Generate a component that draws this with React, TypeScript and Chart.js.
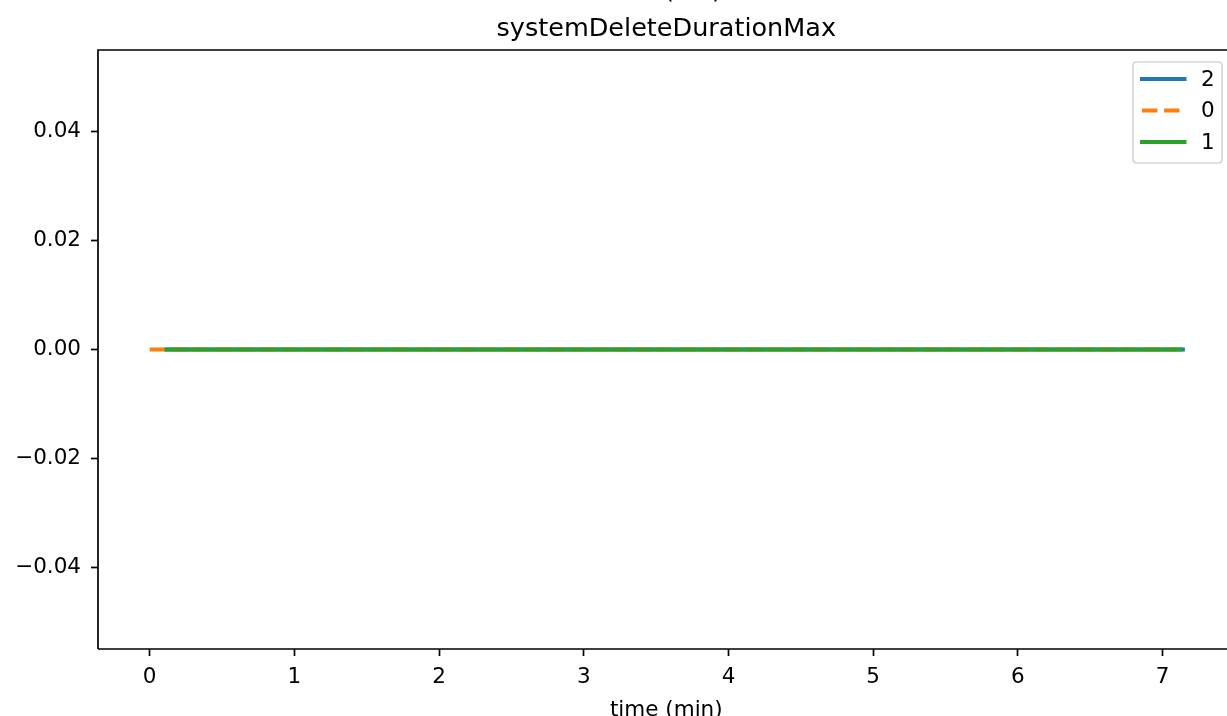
import React, { useEffect, useRef } from "react";
import { Chart, registerables } from "chart.js";

Chart.register(...registerables);

// ---- data ----
const SERIES_LABELS = ["2", "0", "1"];
const SERIES_COLORS = ["#1f77b4", "#ff7f0e", "#2ca02c"];
const SERIES_DASHED = [false, true, false];

const TIME_2 = [0.117, 0.6, 1.1, 1.6, 2.1, 2.6, 3.1, 3.6, 4.1, 4.6, 5.1, 5.6, 6.1, 6.6, 7.14];
const VALUES_2 = [0, 0, 0, 0, 0, 0, 0, 0, 0, 0, 0, 0, 0, 0, 0];
const TIME_0 = [0, 0.5, 1.0, 1.5, 2.0, 2.5, 3.0, 3.5, 4.0, 4.5, 5.0, 5.5, 6.0, 6.5, 7.1];
const VALUES_0 = [0, 0, 0, 0, 0, 0, 0, 0, 0, 0, 0, 0, 0, 0, 0];
const TIME_1 = [0.117, 0.6, 1.1, 1.6, 2.1, 2.6, 3.1, 3.6, 4.1, 4.6, 5.1, 5.6, 6.1, 6.6, 7.125];
const VALUES_1 = [0, 0, 0, 0, 0, 0, 0, 0, 0, 0, 0, 0, 0, 0, 0];

const X_TICKS = [0, 1, 2, 3, 4, 5, 6, 7];
const Y_TICKS = [-0.04, -0.02, 0, 0.02, 0.04];
const X_LIMITS = [-0.357, 7.445];
const Y_LIMITS = [-0.055, 0.055];

const TITLE = "systemDeleteDurationMax";
const SUPTITLE = "(ms)";
const X_LABEL = "time (min)";

const FONT = "'DejaVu Sans', sans-serif";

const toPoints = (t: number[], v: number[]) => t.map((x, i) => ({ x, y: v[i] }));

const textPlugin = {
  id: "mplText",
  afterDatasetsDraw(chart: any) {
    const { ctx, chartArea } = chart;
    const pxPerUnit = (chartArea.right - chartArea.left) / (X_LIMITS[1] - X_LIMITS[0]);
    const rightSpine = chartArea.left + (7.497 - X_LIMITS[0]) * pxPerUnit;
    ctx.save();
    // spines
    ctx.strokeStyle = "#000";
    ctx.lineWidth = 1.7;
    ctx.beginPath();
    ctx.moveTo(chartArea.left, chartArea.bottom);
    ctx.lineTo(chartArea.left, chartArea.top);
    ctx.lineTo(rightSpine, chartArea.top);
    ctx.moveTo(chartArea.left, chartArea.bottom);
    ctx.lineTo(rightSpine, chartArea.bottom);
    ctx.stroke();

    const cx = (chartArea.left + rightSpine) / 2;
    ctx.fillStyle = "#000";
    ctx.textAlign = "center";
    ctx.textBaseline = "alphabetic";
    ctx.font = `25.5px ${FONT}`;
    ctx.fillText(TITLE, cx, 36);
    ctx.fillText(SUPTITLE, 693, -2);
    ctx.font = `21.5px ${FONT}`;
    ctx.fillText(X_LABEL, cx, 716);

    // legend
    const bx = 1133, by = 62, bw = 89, bh = 101, r = 4;
    ctx.beginPath();
    ctx.moveTo(bx + r, by);
    ctx.lineTo(bx + bw - r, by);
    ctx.quadraticCurveTo(bx + bw, by, bx + bw, by + r);
    ctx.lineTo(bx + bw, by + bh - r);
    ctx.quadraticCurveTo(bx + bw, by + bh, bx + bw - r, by + bh);
    ctx.lineTo(bx + r, by + bh);
    ctx.quadraticCurveTo(bx, by + bh, bx, by + bh - r);
    ctx.lineTo(bx, by + r);
    ctx.quadraticCurveTo(bx, by, bx + r, by);
    ctx.closePath();
    ctx.fillStyle = "rgba(255,255,255,0.8)";
    ctx.fill();
    ctx.strokeStyle = "rgba(204,204,204,0.8)";
    ctx.lineWidth = 1.7;
    ctx.stroke();

    const rows = [79, 110.5, 142];
    SERIES_LABELS.forEach((lab, i) => {
      const y = rows[i];
      ctx.beginPath();
      ctx.strokeStyle = SERIES_COLORS[i];
      ctx.lineWidth = 4;
      if (SERIES_DASHED[i]) {
        ctx.setLineDash([15.4, 6.7]);
        ctx.lineCap = "butt";
      } else {
        ctx.setLineDash([]);
        ctx.lineCap = "square";
      }
      ctx.moveTo(1142, y);
      ctx.lineTo(1184.5, y);
      ctx.stroke();
      ctx.setLineDash([]);
      ctx.fillStyle = "#000";
      ctx.font = `21.5px ${FONT}`;
      ctx.textAlign = "left";
      ctx.textBaseline = "middle";
      ctx.fillText(lab, 1201, y + 1);
    });
    ctx.restore();
  },
};

export default function App() {
  const ref = useRef<HTMLCanvasElement | null>(null);
  useEffect(() => {
    document.body.style.margin = "0";
    const canvas = ref.current;
    if (!canvas) return;
    const times = [TIME_2, TIME_0, TIME_1];
    const values = [VALUES_2, VALUES_0, VALUES_1];
    const orders = [2, 1, 0];
    const chart = new Chart(canvas, {
      type: "line",
      data: {
        datasets: SERIES_LABELS.map((label, i) => ({
          label,
          data: toPoints(times[i], values[i]),
          borderColor: SERIES_COLORS[i],
          backgroundColor: SERIES_COLORS[i],
          borderWidth: 4,
          borderDash: SERIES_DASHED[i] ? [15.4, 6.7] : [],
          borderCapStyle: SERIES_DASHED[i] ? "butt" : "square",
          pointRadius: 0,
          tension: 0,
          fill: false,
          order: orders[i],
        })),
      },
      options: {
        responsive: false,
        animation: false,
        devicePixelRatio: 1,
        layout: { padding: { top: 50, left: 0, right: 0, bottom: 0 } },
        plugins: {
          legend: { display: false },
          tooltip: { enabled: false },
          title: { display: false },
        },
        scales: {
          x: {
            type: "linear",
            min: X_LIMITS[0],
            max: X_LIMITS[1],
            afterBuildTicks: (s: any) => {
              s.ticks = X_TICKS.map((v) => ({ value: v }));
            },
            afterFit: (s: any) => {
              s.height = 67;
            },
            grid: {
              display: true,
              drawOnChartArea: false,
              drawTicks: true,
              tickLength: 7,
              tickWidth: 1.7,
              tickColor: "#000",
            },
            border: { display: false },
            ticks: {
              color: "#000",
              font: { family: FONT, size: 21.5 },
              padding: 9,
              autoSkip: false,
              maxRotation: 0,
              callback: (v: any) => String(v),
            },
          },
          y: {
            type: "linear",
            min: Y_LIMITS[0],
            max: Y_LIMITS[1],
            afterBuildTicks: (s: any) => {
              s.ticks = Y_TICKS.map((v) => ({ value: v }));
            },
            afterFit: (s: any) => {
              s.width = 98;
            },
            grid: {
              display: true,
              drawOnChartArea: false,
              drawTicks: true,
              tickLength: 7,
              tickWidth: 1.7,
              tickColor: "#000",
            },
            border: { display: false },
            ticks: {
              color: "#000",
              font: { family: FONT, size: 21.5 },
              padding: 10,
              autoSkip: false,
              callback: (v: any) => Number(v).toFixed(2).replace("-", "\u2212"),
            },
          },
        },
      },
      plugins: [textPlugin],
    } as any);
    return () => chart.destroy();
  }, []);
  return (
    <canvas
      ref={ref}
      width={1227}
      height={716}
      style={{ position: "absolute", left: 0, top: 0, width: 1227, height: 716 }}
    />
  );
}
